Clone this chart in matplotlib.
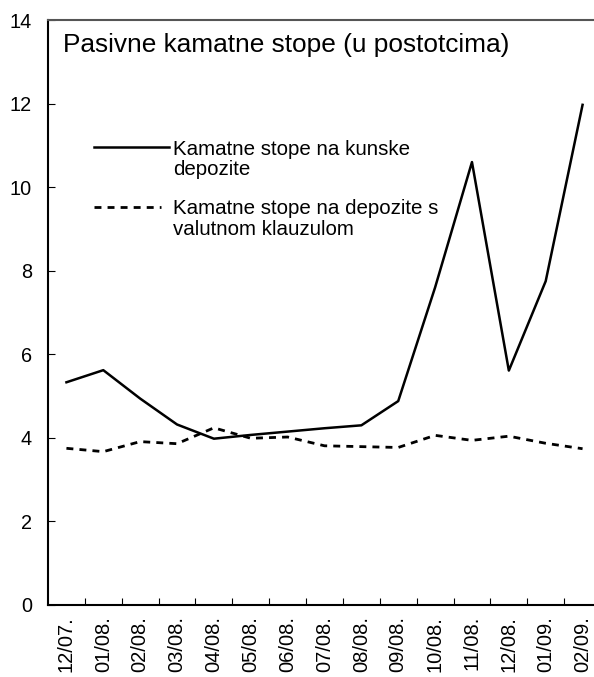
import matplotlib
matplotlib.use('Agg')
import matplotlib.pyplot as plt
import numpy as np

plt.rcParams['font.family'] = ['Liberation Sans', 'DejaVu Sans']

months = ['12/07.', '01/08.', '02/08.', '03/08.', '04/08.', '05/08.', '06/08.',
          '07/08.', '08/08.', '09/08.', '10/08.', '11/08.', '12/08.', '01/09.', '02/09.']
kunske = [5.33, 5.62, 4.94, 4.32, 3.98, 4.07, 4.15, 4.23, 4.30, 4.88,
          7.6, 10.6, 5.61, 7.75, 11.97]
valutne = [3.75, 3.67, 3.91, 3.86, 4.24, 3.99, 4.02, 3.81, 3.79, 3.77,
           4.06, 3.94, 4.04, 3.87, 3.74]

dash = (0, (2.5, 2.2))

fig = plt.figure(figsize=(5.94, 6.77), dpi=100)
ax = fig.add_axes([48 / 594, 1 - 605 / 677, 553 / 594, 585 / 677])

x = np.arange(len(months))
ax.plot(x, kunske, color='black', lw=1.8)
ax.plot(x, valutne, color='black', lw=2.0, ls=dash)

ax.set_xlim(-0.5, len(months) - 0.5)
ax.set_ylim(0, 14)
ax.set_yticks(range(0, 15, 2))
ax.tick_params(axis='y', direction='in', length=5, labelsize=14.3, pad=11.5)

ax.set_xticks(np.arange(0.5, len(months) - 1, 1))
ax.set_xticklabels([])
ax.tick_params(axis='x', which='major', direction='in', length=5)
ax.set_xticks(x, minor=True)
ax.set_xticklabels(months, minor=True, rotation=90, fontsize=14.5)
ax.tick_params(axis='x', which='minor', length=0, pad=8)

for s in ax.spines.values():
    s.set_linewidth(1.5)
ax.spines['top'].set_color('#555555')
ax.spines['right'].set_visible(False)

ax.text(0.027, 0.957, 'Pasivne kamatne stope (u postotcima)', transform=ax.transAxes,
        fontsize=18.9, va='center', ha='left')

# legend drawn by hand to follow the original placement
ax.plot([0.75, 2.78], [10.96, 10.96], color='black', lw=1.8)
ax.text(2.89, 10.66, 'Kamatne stope na kunske\ndepozite', fontsize=14.8,
        va='center', ha='left', linespacing=1.1)
ax.plot([0.75, 2.56], [9.52, 9.52], color='black', lw=2.0, ls=dash)
ax.text(2.89, 9.24, 'Kamatne stope na depozite s\nvalutnom klauzulom', fontsize=14.8,
        va='center', ha='left', linespacing=1.1)

fig.savefig('out.png', dpi=100)
